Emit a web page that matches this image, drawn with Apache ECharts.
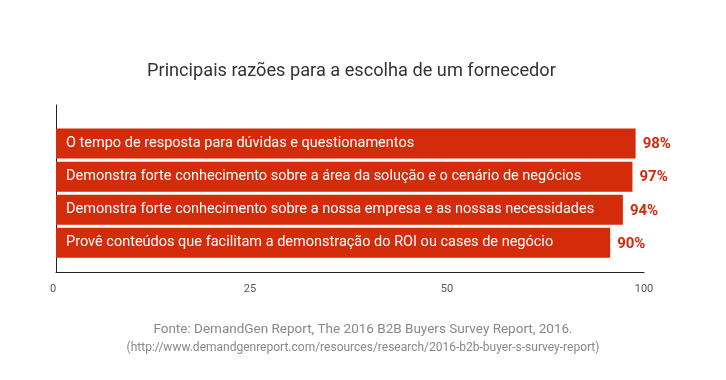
<!DOCTYPE html>
<html><head><meta charset="utf-8">
<script src="https://cdn.jsdelivr.net/npm/echarts@6/dist/echarts.min.js"></script>
<style>html,body{margin:0;padding:0;background:#fff}#c{width:726px;height:380px}</style>
</head><body><div id="c"></div>
<script>
const categories = [
  'O tempo de resposta para dúvidas e questionamentos',
  'Demonstra forte conhecimento sobre a área da solução e o cenário de negócios',
  'Demonstra forte conhecimento sobre a nossa empresa e as nossas necessidades',
  'Provê conteúdos que facilitam a demonstração do ROI ou cases de negócio'
];
const values = [98, 97, 94, 90];
const tickLabels = ['0', '25', '50', '100'];
const titleText = 'Principais razões para a escolha de um fornecedor';
const sourceLine1 = 'Fonte: DemandGen Report, The 2016 B2B Buyers Survey Report, 2016.';
const sourceLine2 = '(http://www.demandgenreport.com/resources/research/2016-b2b-buyer-s-survey-report)';

const FONT = 'Roboto';
const RED = '#d42b0b';
const AXIS_MIN = -84;
const BAR_H = 30;
const chart = echarts.init(document.getElementById('c'), null, {renderer: 'canvas'});
chart.setOption({
  animation: false,
  title: [
    {text: titleText, left: 142, top: 57,
     textStyle: {fontFamily: FONT, fontSize: 18.2, fontWeight: 'normal', color: '#333'}},
    {text: sourceLine1, left: 'center', top: 318,
     textStyle: {fontFamily: FONT, fontSize: 13.5, fontWeight: 'normal', color: '#888'}},
    {text: sourceLine2, left: 'center', top: 337,
     textStyle: {fontFamily: FONT, fontSize: 12, fontWeight: 'normal', color: '#888'}}
  ],
  grid: [
    {left: 53, right: 82, top: 105, bottom: 108},
    {left: 56, right: 82, top: 105, bottom: 108},
    {left: 56, right: 84, top: 127, bottom: 120.6}
  ],
  xAxis: [
    {gridIndex: 0, type: 'category', data: tickLabels, boundaryGap: false,
     axisLine: {show: false}, axisTick: {show: false},
     axisLabel: {margin: 12, fontFamily: FONT, fontSize: 11, color: '#555'}},
    {gridIndex: 1, type: 'value', min: 0, max: 1,
     axisLine: {show: true, lineStyle: {color: '#222', width: 1}}, axisTick: {show: false},
     axisLabel: {show: false}, splitLine: {show: false}},
    {gridIndex: 2, type: 'value', min: AXIS_MIN, max: 100, show: false}
  ],
  yAxis: [
    {gridIndex: 0, type: 'value', show: false},
    {gridIndex: 1, type: 'value', min: 0, max: 1,
     axisLine: {show: true, lineStyle: {color: '#222', width: 1}}, axisTick: {show: false},
     axisLabel: {show: false}, splitLine: {show: false}},
    {gridIndex: 2, type: 'category', data: categories, inverse: true, show: false}
  ],
  series: [{
    type: 'custom', xAxisIndex: 2, yAxisIndex: 2,
    data: values.map((v, i) => [v, i]),
    encode: {x: 0, y: 1},
    renderItem: (params, api) => {
      const v = api.value(0), i = api.value(1);
      const end = api.coord([v, i]);
      const start = api.coord([AXIS_MIN, i]);
      return {type: 'group', children: [
        {type: 'rect', shape: {x: start[0], y: end[1] - BAR_H / 2, width: end[0] - start[0], height: BAR_H},
         style: {fill: RED}},
        {type: 'text', style: {text: categories[i], x: start[0] + 10, y: end[1],
         verticalAlign: 'middle', align: 'left', fill: '#fff', font: '14.5px ' + FONT}},
        {type: 'text', style: {text: v + '%', x: end[0] + 7, y: end[1] + 1,
         verticalAlign: 'middle', align: 'left', fill: RED, font: 'bold 15px ' + FONT}}
      ]};
    }
  }]
});
</script></body></html>
